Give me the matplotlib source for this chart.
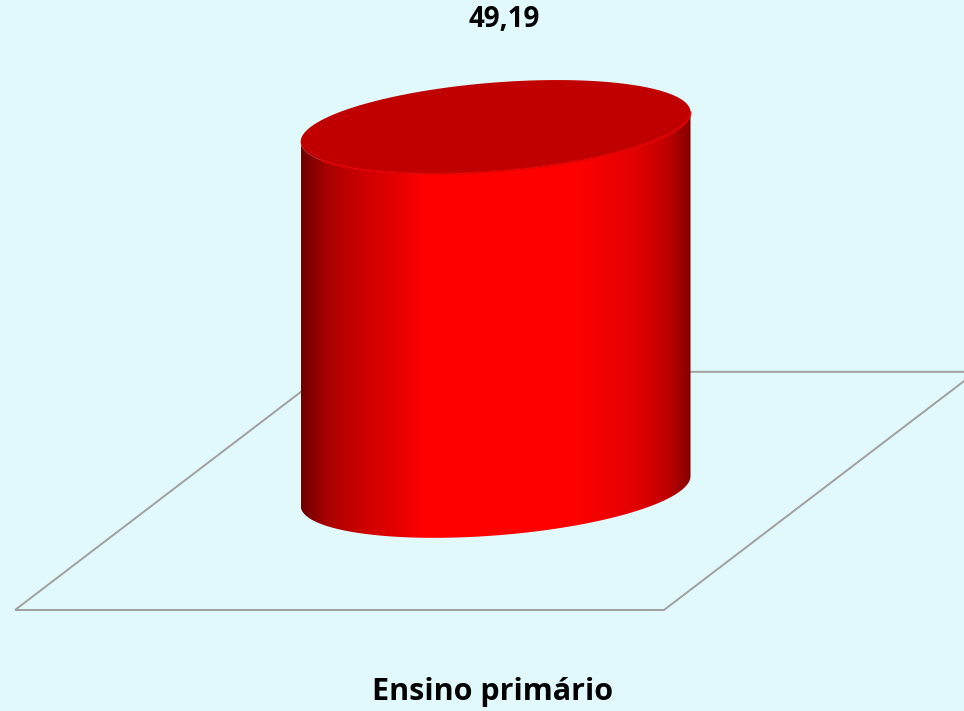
"""
3D cylinder column chart: one category, one value
"""
import numpy as np
import matplotlib
matplotlib.use('Agg')
import matplotlib.pyplot as plt
from matplotlib.patches import Polygon

categories = ['Ensino primário']
values = [49.19]
value_labels = ['49,19']

# look of the chart
bg = '#E2F9FC'
top_color = '#C00000'
floor_color = '#A0A0A0'
z_max = 60.0          # value axis maximum
wall_h = 0.684        # height of the value axis in floor-width units
DX, DY = 0.481, 0.367  # oblique depth vector
rx, rd = 0.285, 0.197  # cylinder radius along width / depth
plt.rcParams['font.family'] = ['Open Sans', 'DejaVu Sans']


def proj(x, d, z):
    """floor coordinates (x, depth, value) -> screen"""
    return x + d * DX, d * DY + z * wall_h / z_max


fig = plt.figure(figsize=(9.64, 7.11), dpi=100, facecolor=bg)
ax = fig.add_axes([0, 0, 1, 1])
ax.set_facecolor(bg)
ax.set_xlim(-15 / 649, 949 / 649)
ax.set_ylim(-101 / 649, 610 / 649)
ax.axis('off')

n = len(categories)
# floor
fx = [0, n, n, 0]
fd = [0, 0, 1, 1]
px, py = proj(np.array(fx, float), np.array(fd, float), 0)
ax.add_patch(Polygon(np.c_[px, py], closed=True, fill=False,
                     edgecolor=floor_color, lw=1.4, zorder=1))

t0 = np.arctan2(rd * DX, rx)
for i, (cat, val, lab) in enumerate(zip(categories, values, value_labels)):
    cx, cd = i + 0.5, 0.5

    def ellipse(t, z):
        return proj(cx + rx * np.cos(t), cd + rd * np.sin(t), z)

    front = np.linspace(t0 + np.pi, t0 + 2 * np.pi, 200)
    bx, by = ellipse(front, 0)
    tx, ty = ellipse(front[::-1], val)
    side = Polygon(np.c_[np.r_[bx, tx], np.r_[by, ty]], closed=True,
                   facecolor='none', edgecolor='none', zorder=2)
    ax.add_patch(side)

    # horizontal shading of the side
    xl, xr = bx[0], bx[-1]
    u = np.linspace(-1, 1, 400)
    shade = np.interp(u, [-1, -0.86, -0.66, -0.5, -0.37, 0.42, 0.73, 0.88, 0.985, 1],
                      [0.43, 0.67, 0.82, 0.9, 1.0, 1.0, 0.88, 0.75, 0.55, 0.5])
    img = np.zeros((1, u.size, 3))
    img[0, :, 0] = shade
    ylo, yhi = by.min(), ty.max()
    im = ax.imshow(img, extent=(xl, xr, ylo, yhi), aspect='auto',
                   interpolation='bilinear', zorder=2)
    im.set_clip_path(side)

    # top face
    tt = np.linspace(0, 2 * np.pi, 300)
    ex, ey = ellipse(tt, val)
    ax.add_patch(Polygon(np.c_[ex, ey], closed=True, facecolor=top_color,
                         edgecolor='none', zorder=3))
    rim_x, rim_y = ellipse(np.linspace(t0 + 1.15 * np.pi, t0 + 2 * np.pi, 120), val)
    ax.plot(rim_x, rim_y, color='#E40000', lw=1.6, alpha=0.8, zorder=4,
            solid_capstyle='round')

    # value label above the cylinder
    top_x, top_y = ellipse(np.pi / 2, val)
    ax.annotate(lab, (cx + cd * DX, top_y), xytext=(6, 38),
                textcoords='offset points', ha='center', va='baseline',
                fontsize=20, fontweight='bold', color='black')

    # category label under the floor
    lx, ly = proj(cx, 0.5, 0)
    ax.annotate(cat, (lx, proj(0, 0, 0)[1]), xytext=(-2, -65),
                textcoords='offset points', ha='center', va='baseline',
                fontsize=22, fontweight='bold', color='black')

fig.savefig('out.png', dpi=100, facecolor=bg)
